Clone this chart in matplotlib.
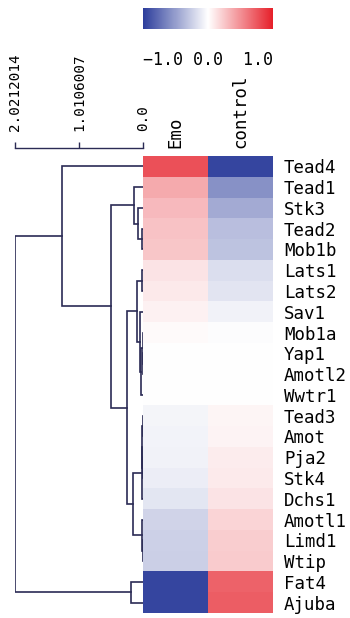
import numpy as np
import matplotlib
matplotlib.use("Agg")
import matplotlib.pyplot as plt
from matplotlib.colors import LinearSegmentedColormap

# data
genes = ["Tead4", "Tead1", "Stk3", "Tead2", "Mob1b", "Lats1", "Lats2", "Sav1",
         "Mob1a", "Yap1", "Amotl2", "Wwtr1", "Tead3", "Amot", "Pja2", "Stk4",
         "Dchs1", "Amotl1", "Limd1", "Wtip", "Fat4", "Ajuba"]
samples = ["Emo", "control"]
emo = [0.78, 0.38, 0.31, 0.27, 0.25, 0.12, 0.10, 0.06, 0.02, 0.005, 0.0, 0.0,
       -0.05, -0.06, -0.07, -0.09, -0.13, -0.22, -0.24, -0.25, -0.96, -0.96]
control = [-0.96, -0.57, -0.43, -0.33, -0.31, -0.17, -0.14, -0.07, -0.01, -0.005, 0.0, 0.0,
           0.045, 0.05, 0.08, 0.09, 0.12, 0.19, 0.22, 0.23, 0.70, 0.72]

# dendrogram merges (scipy style ids: leaves 0..21, new clusters from 22)
merge_a = [3, 2, 1, 5, 9, 8, 27, 7, 25, 12, 14, 31, 33, 18, 17, 34, 30, 24, 0, 20, 40]
merge_b = [4, 22, 23, 6, 10, 26, 11, 28, 29, 13, 15, 32, 16, 19, 35, 36, 37, 38, 39, 21, 41]
merge_h = [0.016, 0.08, 0.14, 0.02, 0.004, 0.006, 0.03, 0.047, 0.095, 0.006, 0.002, 0.01,
           0.022, 0.006, 0.016, 0.16, 0.25, 0.505, 1.28, 0.19, 2.0212014]
scale_ticks = [2.0212014, 1.0106007, 0.0]
scale_labels = ["2.0212014", "1.0106007", "0.0"]

mono = "DejaVu Sans Mono"
line_col = "#2b2b55"
cmap = LinearSegmentedColormap.from_list("bwr2", ["#2d3e9c", "#ffffff", "#e6202a"])

W, H = 350, 618
fig = plt.figure(figsize=(W / 100, H / 100), dpi=100)

def box(x0, y0, x1, y1):
    return [x0 / W, (H - y1) / H, (x1 - x0) / W, (y1 - y0) / H]

# heatmap
ax = fig.add_axes(box(143, 156, 273, 613))
data = np.array([emo, control]).T
im = ax.imshow(data, cmap=cmap, vmin=-1, vmax=1, aspect="auto", interpolation="nearest")
ax.set_xticks(range(len(samples)))
ax.set_xticklabels(samples, rotation=90, family=mono, fontsize=12.5)
ax.xaxis.tick_top()
ax.set_yticks(range(len(genes)))
ax.set_yticklabels(genes, family=mono, fontsize=12.5)
ax.yaxis.tick_right()
ax.tick_params(axis="both", length=0)
ax.tick_params(axis="x", pad=6)
ax.tick_params(axis="y", pad=8)
for s in ax.spines.values():
    s.set_visible(False)

# dendrogram
dax = fig.add_axes(box(15, 148, 143, 613))
n = len(genes)
pos = {i: float(i) for i in range(n)}
hgt = {i: 0.0 for i in range(n)}
for k, (a, b, h) in enumerate(zip(merge_a, merge_b, merge_h)):
    cid = n + k
    dax.plot([hgt[a], h, h, hgt[b]], [pos[a], pos[a], pos[b], pos[b]],
             color=line_col, lw=1.2, solid_joinstyle="miter")
    pos[cid] = (pos[a] + pos[b]) / 2
    hgt[cid] = h
dax.set_xlim(2.0212014, 0)
dax.set_ylim(n - 0.5, -0.5 - 8 / 20.77)
dax.set_yticks([])
dax.xaxis.tick_top()
dax.set_xticks(scale_ticks)
dax.set_xticklabels(scale_labels, rotation=90, family=mono, fontsize=10.3)
dax.tick_params(axis="x", direction="out", length=4, width=1.0, color=line_col, pad=8)
for side in ["bottom", "left", "right"]:
    dax.spines[side].set_visible(False)
dax.spines["top"].set_color(line_col)
dax.spines["top"].set_linewidth(1.0)

# colour bar
cax = fig.add_axes(box(143, 8, 273, 29))
cb = fig.colorbar(im, cax=cax, orientation="horizontal")
cb.outline.set_visible(False)
cax.set_xticks([])
cax.set_xlabel("\u22121.0 0.0  1.0", loc="left", family=mono, fontsize=12, labelpad=16)

fig.savefig("out.png", dpi=100)
